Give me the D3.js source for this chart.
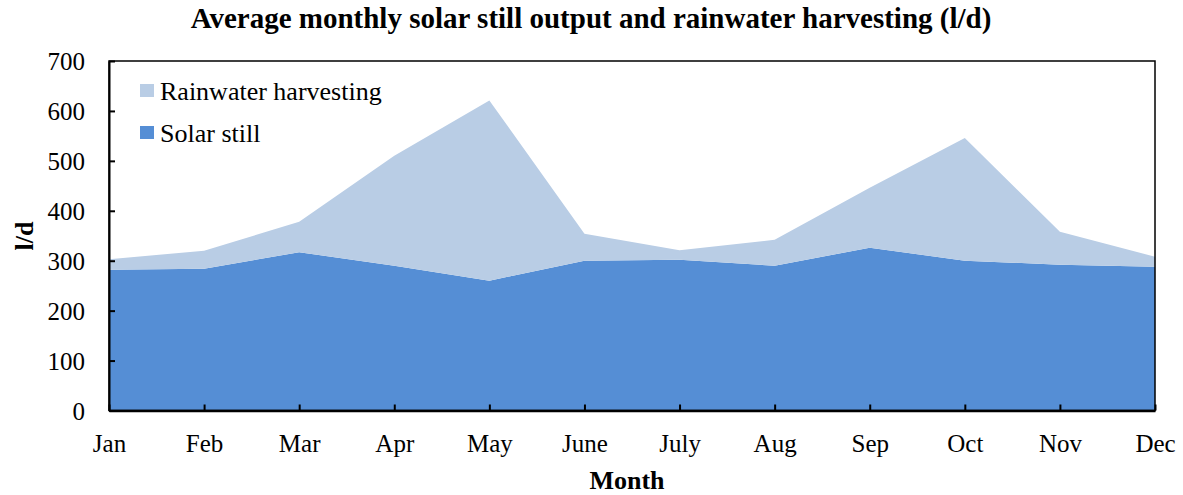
<!DOCTYPE html>
<html><head><meta charset="utf-8">
<script src="https://cdn.jsdelivr.net/npm/d3@7"></script>
<style>body{margin:0;background:#fff}svg{display:block}</style>
</head><body><svg id="c" width="1183" height="495"></svg>
<script>
const months = ["Jan","Feb","Mar","Apr","May","June","July","Aug","Sep","Oct","Nov","Dec"];
const solarStill = [282,284,317,290,260,300,302,290,326,300,292,288];
const rainwater = [21,36,61,220,361,54,19,52,120,246,66,20];
const yTicks = [0,100,200,300,400,500,600,700];
const seriesNames = ["Solar still","Rainwater harvesting"];
const colors = {"Solar still":"#558ED5","Rainwater harvesting":"#B9CDE5"};
const FONT = '"Liberation Serif", "Times New Roman", serif';

const svg = d3.select("#c");
const L=109, R=1155, T=61, B=410.5;
const x = d3.scalePoint().domain(months).range([L,R]);
const y = d3.scaleLinear().domain([0,700]).range([B,T]);

const table = months.map((m,i)=>({month:m,"Solar still":solarStill[i],"Rainwater harvesting":rainwater[i]}));
const stacked = d3.stack().keys(seriesNames)(table);
const area = d3.area().x(d=>x(d.data.month)).y0(d=>y(d[0])).y1(d=>y(d[1]));
svg.append("g").selectAll("path").data(stacked).join("path")
  .attr("d",area).attr("fill",d=>colors[d.key]);

// box
svg.append("rect").attr("x",L).attr("y",T).attr("width",R-L).attr("height",B-T)
  .attr("fill","none").attr("stroke","#000").attr("stroke-width",1.5);

const yAxis = svg.append("g").attr("transform",`translate(${L},0)`)
  .call(d3.axisLeft(y).tickValues(yTicks).tickSizeInner(-6).tickSizeOuter(0).tickPadding(24));
yAxis.attr("font-family",FONT).attr("font-size",25);
yAxis.select(".domain").attr("stroke-width",2);
yAxis.selectAll(".tick line").attr("stroke-width",2);
yAxis.selectAll("text").attr("fill","#000").attr("dy","0.34em");

const xAxis = svg.append("g").attr("transform",`translate(0,${B})`)
  .call(d3.axisBottom(x).tickSizeInner(-6).tickSizeOuter(0).tickPadding(24));
xAxis.attr("font-family",FONT).attr("font-size",25);
xAxis.select(".domain").attr("stroke-width",2.5);
xAxis.selectAll(".tick line").attr("stroke-width",2);
xAxis.selectAll("text").attr("fill","#000");

svg.append("text").attr("x",591).attr("y",28).attr("text-anchor","middle")
  .attr("font-family",FONT).attr("font-size",29).attr("font-weight","bold")
  .text("Average monthly solar still output and rainwater harvesting (l/d)");
svg.append("text").attr("x",627).attr("y",489).attr("text-anchor","middle")
  .attr("font-family",FONT).attr("font-size",26).attr("font-weight","bold").text("Month");
svg.append("text").attr("transform","translate(33,236) rotate(-90)").attr("text-anchor","middle")
  .attr("font-family",FONT).attr("font-size",26).attr("font-weight","bold").text("l/d");

const legendItems = ["Rainwater harvesting","Solar still"];
const lg = svg.append("g");
legendItems.forEach((k,i)=>{
  const yy = 84 + i*42;
  lg.append("rect").attr("x",140).attr("y",yy).attr("width",14).attr("height",13).attr("fill",colors[k]);
  lg.append("text").attr("x",160).attr("y",yy+16).attr("font-family",FONT).attr("font-size",26).text(k);
});
</script></body></html>
